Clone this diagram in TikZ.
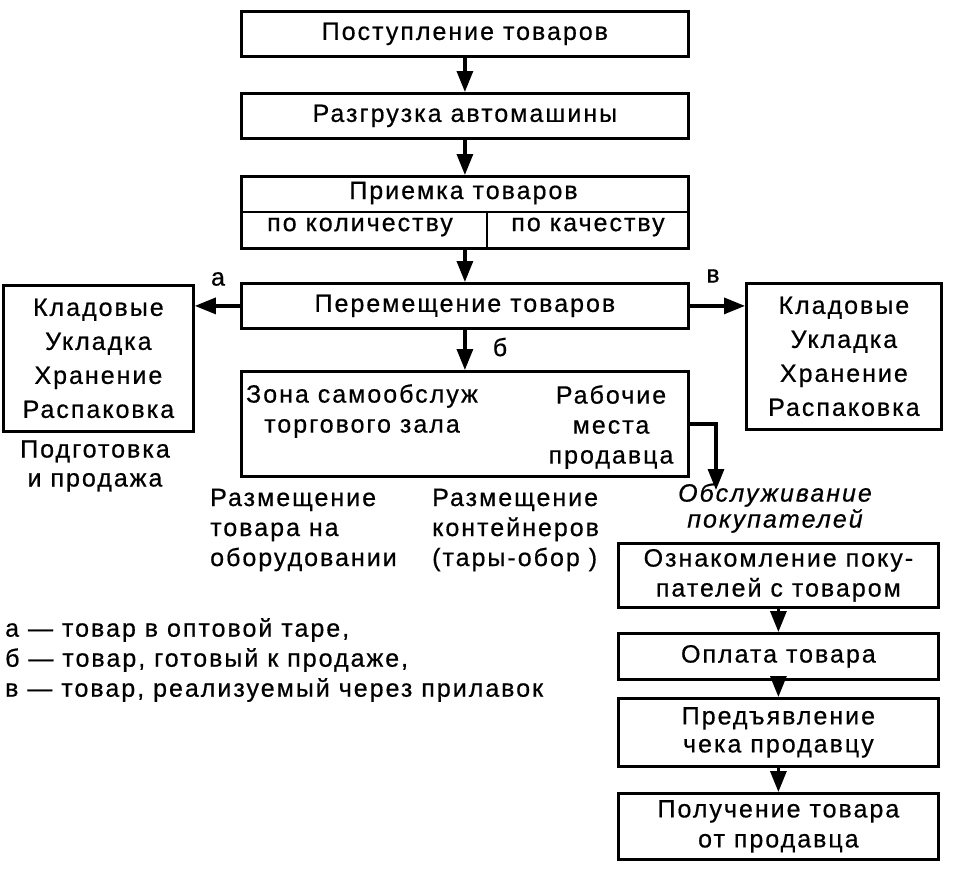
\documentclass[tikz,border=0pt]{standalone}
\usepackage{fontspec}
\setmainfont{Liberation Sans}[LetterSpace=8,FakeBold=0.6]
\usetikzlibrary{arrows.meta}
\begin{document}
\begin{tikzpicture}[x=1pt,y=-1pt,
  box/.style={draw, line width=2.8pt, inner sep=0pt, anchor=north west},
  txt/.style={font=\fontsize{25}{30}\selectfont, align=center, inner sep=0pt},
  arr/.style={line width=3.2pt, -{Triangle[length=21pt,width=16pt]}}]
\useasboundingbox (0,0) rectangle (953,868);
% main column
\node[box, minimum width=447, minimum height=45] (b1) at (240,10) {};
\node[txt] (t1) at (b1.center) {Поступление товаров};
\node[box, minimum width=447, minimum height=45] (b2) at (240,92) {};
\node[txt] (t2) at (b2.center) {Разгрузка автомашины};
\node[box, minimum width=447, minimum height=72] (b3) at (240,175) {};
\node[txt] (t3) at (463.5,193) {Приемка товаров};
\node[txt] (t3a) at (360,227) {по количеству};
\node[txt] (t3b) at (588,227) {по качеству};
\draw[line width=2.6pt] (b3.west |- 0,212) -- (b3.east |- 0,212);
\draw[line width=2.6pt] (487,212) -- (b3.south -| 487,0);
\node[box, minimum width=447, minimum height=45] (b4) at (240,282) {};
\node[txt] (t4) at (b4.center) {Перемещение товаров};
\node[box, minimum width=447, minimum height=105] (zone) at (240,370) {};
\node[txt] (tz1) at (362,411) {Зона самообслуж\\торгового зала};
\node[txt] (tz2) at (611,427) {Рабочие\\места\\продавца};
% side boxes
\node[box, minimum width=190, minimum height=146] (lb) at (2,284) {};
\node[txt, font=\fontsize{25}{34}\selectfont] (tl) at (lb.center) {Кладовые\\Укладка\\Хранение\\Распаковка};
\node[box, minimum width=195, minimum height=146] (rb) at (745,282) {};
\node[txt, font=\fontsize{25}{34}\selectfont] (tr) at (rb.center) {Кладовые\\Укладка\\Хранение\\Распаковка};
\node[txt, font=\fontsize{25}{29}\selectfont] (prep) at (95,466) {Подготовка\\и продажа};
\node[txt, align=left, anchor=west] (raz1) at (210,530) {Размещение\\товара на\\оборудовании};
\node[txt, align=left, anchor=west] (raz2) at (432,530) {Размещение\\контейнеров\\(тары-обор )};
\node[txt, font=\fontsize{25}{26}\itshape] (obs) at (775,508) {Обслуживание\\покупателей};
% customer column
\node[box, minimum width=320, minimum height=64] (c1) at (617,542) {};
\node[txt] (tc1) at (c1.center) {Ознакомление поку-\\пателей с товаром};
\node[box, minimum width=320, minimum height=46] (c2) at (617,632) {};
\node[txt] (tc2) at (c2.center) {Оплата товара};
\node[box, minimum width=320, minimum height=68] (c3) at (617,697) {};
\node[txt, font=\fontsize{25}{28}\selectfont] (tc3) at (c3.center) {Предъявление\\чека продавцу};
\node[box, minimum width=320, minimum height=66] (c4) at (617,792) {};
\node[txt] (tc4) at (c4.center) {Получение товара\\от продавца};
% legend
\node[txt, align=left, anchor=west] (leg) at (5,660) {а — товар в оптовой таре,\\б — товар, готовый к продаже,\\в — товар, реализуемый через прилавок};
% labels
\node[txt] (la) at (218,279) {а};
\node[txt] (lv) at (713,276) {в};
\node[txt] (lbb) at (500,347) {б};
% arrows
\draw[arr] (b1.south) -- (b2.north);
\draw[arr] (b2.south) -- (b3.north);
\draw[arr] (b3.south) -- (b4.north);
\draw[arr] (b4.south) -- (zone.north);
\draw[arr] (b4.west) -- (b4.west -| lb.east);
\draw[arr] (b4.east) -- (b4.east -| rb.west);
\coordinate (zend) at (716,490);
\draw[arr] (zone.east) -| (zend);
\draw[arr] (c1.south) -- (c2.north);
\draw[arr] (c2.south) -- (c3.north);
\draw[arr] (c3.south) -- (c4.north);
\end{tikzpicture}
\end{document}
